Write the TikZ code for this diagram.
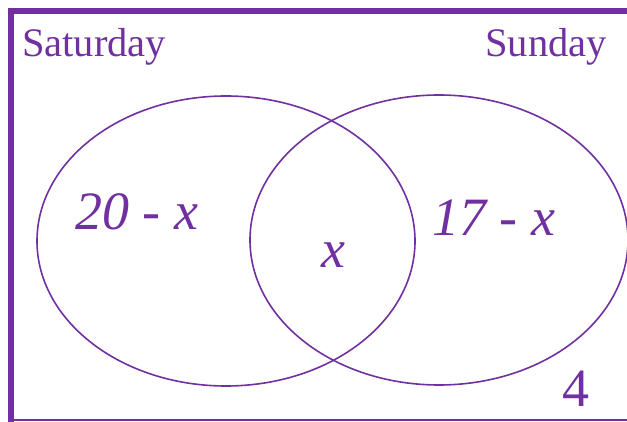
\documentclass[tikz,border=0pt]{standalone}
\usepackage{fontspec}
\setmainfont{Liberation Serif}
\usepackage{xcolor}
\usetikzlibrary{shapes.geometric}
\definecolor{vennpurple}{HTML}{7030A0}

\begin{document}
\begin{tikzpicture}[
    x=1pt, y=-1pt,
    set/.style={ellipse, draw=vennpurple, line width=1.6pt, minimum width=378pt, minimum height=290pt, inner sep=0pt},
    title/.style={text=vennpurple, inner sep=0pt, font=\fontsize{40.5}{46}\selectfont},
    count/.style={text=vennpurple, inner sep=0pt, font=\fontsize{54}{60}\selectfont\itshape}
]
\useasboundingbox (0,0) rectangle (627,422);

% Frame
\draw[vennpurple, line width=6pt] (627,11) -- (11,11) -- (11,422);
\draw[vennpurple, line width=2pt] (8,420) -- (627,420);

% Sets
\node[set] (sat) at (226,241) {};
\node[set] (sun) at (439,240) {};

% Set names
\node[title, anchor=base west] (satname) at (22,57) {Saturday};
\node[title, anchor=base east] (sunname) at (607,57) {Sunday};

% Counts
\node[count, anchor=base west] (satonly) at (75,230) {20 - x};
\node[count, anchor=base west] (sunonly) at (432,236) {17 - x};
\node[count, anchor=base] (both) at (333,268) {x};
\node[count, font=\fontsize{54}{60}\selectfont, anchor=base east] (neither) at (590,406) {4};

\end{tikzpicture}
\end{document}
